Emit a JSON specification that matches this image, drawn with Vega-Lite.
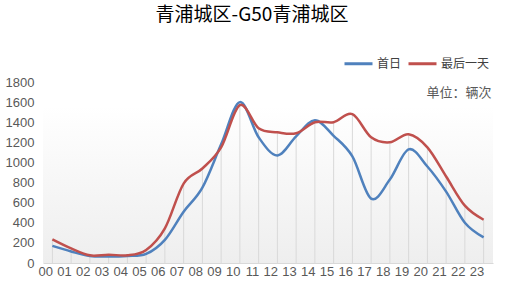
{
  "$schema": "https://vega.github.io/schema/vega-lite/v6.json",
  "width": 450,
  "height": 181,
  "autosize": "none",
  "padding": {"left": 43, "top": 82, "right": 12, "bottom": 29},
  "background": "white",
  "title": {"text": "青浦城区-G50青浦城区", "fontSize": 19, "fontWeight": "normal", "font": "Noto Sans CJK SC", "color": "#000000", "anchor": "middle", "dx": -16, "offset": 23},
  "config": {"view": {"stroke": null}, "font": "Noto Sans CJK SC", "axis": {"labelOverlap": false}},
  "data": {"values": [
    {"h":"00","s":"首日","v":170},{"h":"01","s":"首日","v":115},{"h":"02","s":"首日","v":70},{"h":"03","s":"首日","v":65},{"h":"04","s":"首日","v":70},{"h":"05","s":"首日","v":90},{"h":"06","s":"首日","v":230},{"h":"07","s":"首日","v":510},{"h":"08","s":"首日","v":750},{"h":"09","s":"首日","v":1180},{"h":"10","s":"首日","v":1600},{"h":"11","s":"首日","v":1250},{"h":"12","s":"首日","v":1070},{"h":"13","s":"首日","v":1260},{"h":"14","s":"首日","v":1420},{"h":"15","s":"首日","v":1265},{"h":"16","s":"首日","v":1060},{"h":"17","s":"首日","v":640},{"h":"18","s":"首日","v":830},{"h":"19","s":"首日","v":1130},{"h":"20","s":"首日","v":960},{"h":"21","s":"首日","v":710},{"h":"22","s":"首日","v":400},{"h":"23","s":"首日","v":255},
    {"h":"00","s":"最后一天","v":235},{"h":"01","s":"最后一天","v":145},{"h":"02","s":"最后一天","v":76},{"h":"03","s":"最后一天","v":83},{"h":"04","s":"最后一天","v":76},{"h":"05","s":"最后一天","v":130},{"h":"06","s":"最后一天","v":345},{"h":"07","s":"最后一天","v":790},{"h":"08","s":"最后一天","v":940},{"h":"09","s":"最后一天","v":1150},{"h":"10","s":"最后一天","v":1570},{"h":"11","s":"最后一天","v":1340},{"h":"12","s":"最后一天","v":1300},{"h":"13","s":"最后一天","v":1290},{"h":"14","s":"最后一天","v":1400},{"h":"15","s":"最后一天","v":1400},{"h":"16","s":"最后一天","v":1480},{"h":"17","s":"最后一天","v":1250},{"h":"18","s":"最后一天","v":1200},{"h":"19","s":"最后一天","v":1280},{"h":"20","s":"最后一天","v":1150},{"h":"21","s":"最后一天","v":860},{"h":"22","s":"最后一天","v":570},{"h":"23","s":"最后一天","v":430}
  ]},
  "layer": [
    {
      "mark": {"type": "rect", "color": {"gradient": "linear", "x1": 0, "y1": 0, "x2": 0, "y2": 1, "stops": [{"offset": 0, "color": "#ffffff"}, {"offset": 1, "color": "#eeeeee"}]}},
      "encoding": {"y": {"datum": 1560, "type": "quantitative", "scale": {"domain": [0, 1800]},
          "axis": {"tickCount": 10, "format": "d", "labelOverlap": false, "grid": false, "domain": false, "ticks": false, "labelPadding": 9, "labelColor": "#595959", "labelFontSize": 13, "labelFont": "Liberation Sans",
            "title": "单位：辆次", "titleAngle": 0, "titleX": 448, "titleY": 10, "titleAlign": "right", "titleBaseline": "middle", "titleFontWeight": "normal", "titleFontSize": 13, "titleColor": "#595959"}},
        "y2": {"datum": 0}}
    },
    {
      "mark": {"type": "rule", "color": "#d9d9d9", "strokeWidth": 1},
      "encoding": {
        "x": {"field": "h", "type": "ordinal"},
        "y": {"aggregate": "max", "field": "v", "type": "quantitative"},
        "y2": {"datum": 0}
      }
    },
    {
      "mark": {"type": "line", "interpolate": "cardinal", "strokeWidth": 2.5},
      "encoding": {
        "x": {"field": "h", "type": "ordinal", "scale": {"type": "point", "padding": 0.5},
          "axis": {"title": null, "labelAngle": 0, "ticks": false, "domainColor": "#d9d9d9", "labelColor": "#595959", "labelFontSize": 13, "labelPadding": 8, "labelFont": "Liberation Sans"}},
        "y": {"field": "v", "type": "quantitative", "scale": {"domain": [0, 1800]}},
        "color": {"field": "s", "type": "nominal", "sort": ["首日", "最后一天"],
          "scale": {"domain": ["首日", "最后一天"], "range": ["#4F81BD", "#C0504D"]},
          "legend": {"title": null, "orient": "none", "legendX": 300, "legendY": -34, "direction": "horizontal", "symbolType": "stroke", "symbolSize": 784, "symbolStrokeWidth": 3, "labelFontSize": 12, "labelColor": "#404040", "labelOffset": 3, "columnPadding": 0, "padding": 0}}
      }
    }
  ]
}
